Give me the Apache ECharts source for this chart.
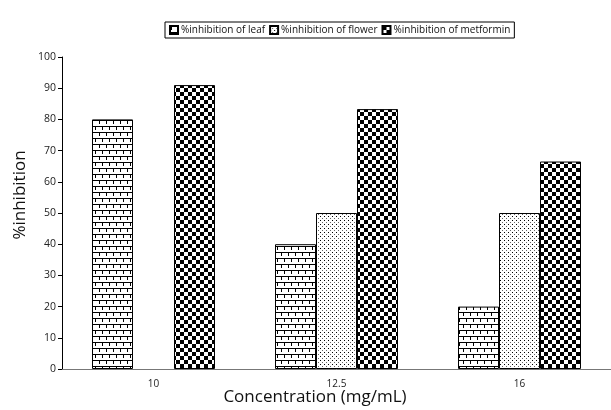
<!DOCTYPE html>
<html><head><meta charset="utf-8">
<script src="https://cdn.jsdelivr.net/npm/echarts@6/dist/echarts.min.js"></script>
<style>html,body{margin:0;padding:0;background:#fff}#c{width:611px;height:410px}</style>
</head><body><div id="c"></div>
<script>
var categories = ['10', '12.5', '16'];
var leaf = [80, 40, 20];
var flower = [null, 50, 50];
var metformin = [91, 83.3, 66.5];
var seriesNames = ['%inhibition of leaf', '%inhibition of flower', '%inhibition of metformin'];
var yTicks = {min: 0, max: 100, interval: 10};

function brick() {
  var c = document.createElement('canvas'); c.width = 7; c.height = 12;
  var g = c.getContext('2d'); g.fillStyle = '#fff'; g.fillRect(0,0,7,12);
  g.fillStyle = '#000';
  g.fillRect(0,0,7,1); g.fillRect(0,6,7,1);
  g.fillRect(1,0,1,4); g.fillRect(4,6,1,4);
  return c;
}
function dots() {
  var c = document.createElement('canvas'); c.width = 4; c.height = 4;
  var g = c.getContext('2d'); g.fillStyle = '#fff'; g.fillRect(0,0,4,4);
  g.fillStyle = '#000'; g.fillRect(0,0,1,1);
  g.fillStyle = '#666'; g.fillRect(2,2,1,1);
  return c;
}
function checker() {
  var c = document.createElement('canvas'); c.width = 8; c.height = 8;
  var g = c.getContext('2d'); g.fillStyle = '#fff'; g.fillRect(0,0,8,8);
  g.fillStyle = '#000'; g.fillRect(0,0,4,4); g.fillRect(4,4,4,4);
  return c;
}
var pats = [brick(), dots(), checker()];
var datas = [leaf, flower, metformin];
var font = '"Open Sans", sans-serif';

var chart = echarts.init(document.getElementById('c'), null, {renderer: 'canvas'});
chart.setOption({
  animation: false,
  title: [
    {text: 'Concentration (mg/mL)', left: 315, top: 389, textAlign: 'center', padding: 0,
     textStyle: {fontFamily: font, fontSize: 17, fontWeight: 'normal', color: '#111'}},
  ],
  graphic: [{type: 'text', x: 20, y: 195, rotation: Math.PI/2,
    style: {text: '%inhibition', font: '17px "Open Sans", sans-serif', fill: '#111', align: 'center', verticalAlign: 'middle'}}],
  legend: {
    top: 22, left: 165, itemWidth: 8, itemHeight: 8, itemGap: 4, icon: 'rect',
    borderColor: '#000', borderWidth: 1, padding: [3, 4, 3, 4],
    textStyle: {fontFamily: font, fontSize: 10, color: '#111', padding: [0, 0, 0, -2]},
    data: seriesNames
  },
  grid: {left: 62, top: 57, bottom: 41, width: 552},
  xAxis: {
    type: 'category', data: categories,
    axisLine: {lineStyle: {color: '#777', width: 1}},
    axisTick: {length: 4, lineStyle: {color: '#777'}},
    axisLabel: {fontFamily: font, fontSize: 10, color: '#222', margin: 10}
  },
  yAxis: {
    type: 'value', min: yTicks.min, max: yTicks.max, interval: yTicks.interval,
    splitLine: {show: false},
    axisLine: {show: true, lineStyle: {color: '#000', width: 1}},
    axisTick: {show: true, length: 4, lineStyle: {color: '#000'}},
    axisLabel: {fontFamily: font, fontSize: 10.5, color: '#222', margin: 6}
  },
  series: seriesNames.map(function (n, i) {
    return {
      name: n, type: 'bar', data: datas[i], barWidth: 41, barGap: '0%',
      itemStyle: {color: {image: pats[i], repeat: 'repeat'}, borderColor: '#000', borderWidth: 1}
    };
  })
});
</script></body></html>
